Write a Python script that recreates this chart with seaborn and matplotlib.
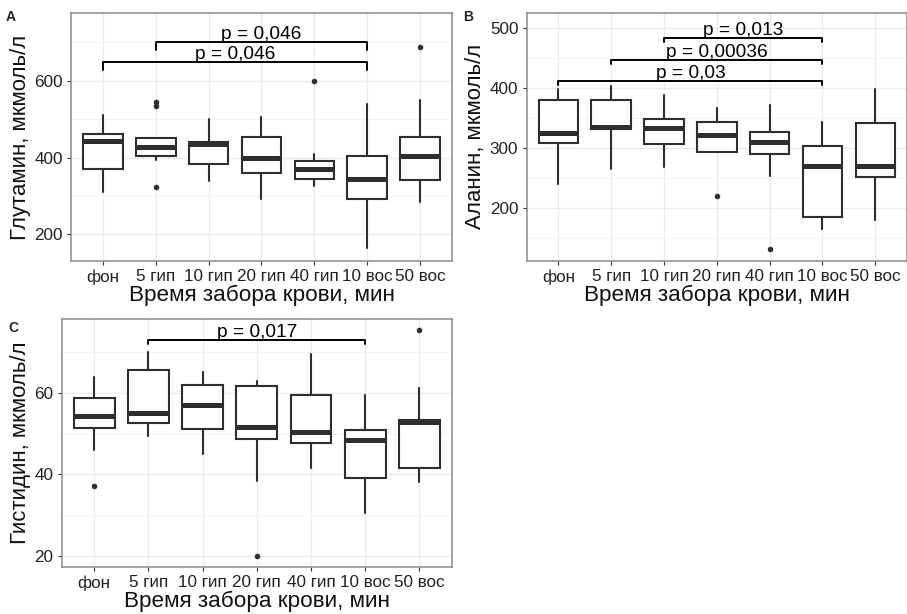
import matplotlib
matplotlib.use("Agg")
import matplotlib.pyplot as plt
import seaborn as sns

groups = ["фон", "5 гип", "10 гип", "20 гип", "40 гип", "10 вос", "50 вос"]

# A - glutamine
glu_whislo = [310, 394, 338, 293, 327, 164, 285]
glu_q1 = [370, 405, 384, 360, 345, 291, 341]
glu_med = [442, 428, 436, 399, 370, 344, 403]
glu_q3 = [462, 451, 441, 454, 391, 405, 454]
glu_whishi = [511, 451, 500, 506, 409, 540, 551]
glu_fliers = [[], [545, 533, 324], [], [], [598], [], [688]]
glu_pairs = [(0, 5), (1, 5)]
glu_bracket_y = [648, 701]
glu_p = ["p = 0,046", "p = 0,046"]

# B - alanine
ala_whislo = [240, 265, 269, 294, 253, 166, 181]
ala_q1 = [308, 332, 307, 294, 290, 186, 252]
ala_med = [326, 335, 333, 322, 310, 271, 271]
ala_q3 = [381, 381, 348, 343, 327, 303, 342]
ala_whishi = [398, 404, 389, 367, 372, 344, 399]
ala_fliers = [[], [], [], [220], [132], [], []]
ala_pairs = [(0, 5), (1, 5), (2, 5)]
ala_bracket_y = [412, 447, 483]
ala_p = ["p = 0,03", "p = 0,00036", "p = 0,013"]

# C - histidine
his_whislo = [46.1, 49.5, 44.9, 38.4, 41.5, 30.5, 38.1]
his_q1 = [51.5, 52.6, 51.1, 48.7, 47.6, 39.0, 41.5]
his_med = [54.3, 55.2, 57.0, 51.7, 50.3, 48.4, 52.9]
his_q3 = [58.7, 65.6, 62.0, 61.6, 59.4, 50.8, 53.3]
his_whishi = [63.9, 70.2, 65.1, 63.0, 69.5, 59.6, 61.2]
his_fliers = [[37.2], [], [], [19.8], [], [], [75.5]]
his_pairs = [(1, 5)]
his_bracket_y = [73]
his_p = ["p = 0,017"]

sns.set_theme(style="whitegrid")
plt.rcParams['font.family'] = ['Liberation Sans', 'DejaVu Sans']

DARK = '#2E2E2E'


def draw_panel(ax, whislo, q1, med, q3, whishi, fliers, pairs, br_y, p_txt,
               ylim, yticks, yminor, tip, ylabel):
    stats = []
    for i in range(len(groups)):
        stats.append(dict(whislo=whislo[i], q1=q1[i], med=med[i], q3=q3[i],
                          whishi=whishi[i], fliers=fliers[i]))
    ax.bxp(stats, positions=range(len(groups)), widths=0.75, showcaps=False,
           patch_artist=True,
           boxprops=dict(facecolor='white', edgecolor=DARK, linewidth=1.5),
           medianprops=dict(color=DARK, linewidth=3.6, solid_capstyle='butt'),
           whiskerprops=dict(color=DARK, linewidth=1.5),
           flierprops=dict(marker='o', markersize=4, markerfacecolor=DARK,
                           markeredgecolor='none'))
    # significance brackets
    for (a, b), y, txt in zip(pairs, br_y, p_txt):
        ax.plot([a, a, b, b], [y - tip, y, y, y - tip], color='black', lw=1.4)
        ax.annotate(txt, ((a + b) / 2, y), xytext=(0, -0.5), textcoords='offset points',
                    ha='center', va='bottom', fontsize=13.8, color='black')
    ax.set_xlim(-0.6, len(groups) - 0.4)
    ax.set_ylim(*ylim)
    ax.set_xticks(range(len(groups)))
    ax.set_xticklabels(groups)
    ax.set_yticks(yticks)
    ax.set_yticks(yminor, minor=True)
    ax.set_facecolor('white')
    ax.grid(True, which='major', color='#EBEBEB', lw=1.0)
    ax.grid(True, which='minor', axis='y', color='#F4F4F4', lw=0.7)
    ax.set_axisbelow(True)
    for s in ax.spines.values():
        s.set_color('#8A8A8A')
        s.set_linewidth(1.1)
    ax.tick_params(axis='both', which='major', length=3, width=0.8, color=DARK,
                   labelsize=12.3, labelcolor='#222222', pad=3, bottom=True, left=True)
    ax.tick_params(axis='y', which='minor', length=0, left=False)
    ax.set_xlabel('Время забора крови, мин', fontsize=16.2, labelpad=0, color='#111111')
    ax.set_ylabel(ylabel, fontsize=16, labelpad=2.5, color='#111111')
    return ax


fig = plt.figure(figsize=(9.07, 6.14), dpi=100)
fig.patch.set_facecolor('white')

axA = fig.add_axes([0.0783, 0.5749, 0.42, 0.4039])
axB = fig.add_axes([0.5807, 0.5749, 0.4193, 0.4044])
axC = fig.add_axes([0.068, 0.0765, 0.4303, 0.404])

draw_panel(axA, glu_whislo, glu_q1, glu_med, glu_q3, glu_whishi, glu_fliers,
           glu_pairs, glu_bracket_y, glu_p, (131, 776), [200, 400, 600],
           [300, 500, 700], 20, 'Глутамин, мкмоль/л')
draw_panel(axB, ala_whislo, ala_q1, ala_med, ala_q3, ala_whishi, ala_fliers,
           ala_pairs, ala_bracket_y, ala_p, (112, 526), [200, 300, 400, 500],
           [150, 250, 350, 450], 6, 'Аланин, мкмоль/л')
draw_panel(axC, his_whislo, his_q1, his_med, his_q3, his_whishi, his_fliers,
           his_pairs, his_bracket_y, his_p, (17.2, 78.2), [20, 40, 60],
           [30, 50, 70], 1.0, 'Гистидин, мкмоль/л')

fig.text(0.006, 0.966, 'A', fontsize=10, fontweight='bold')
fig.text(0.511, 0.966, 'B', fontsize=10, fontweight='bold')
fig.text(0.009, 0.460, 'C', fontsize=10, fontweight='bold')

fig.savefig('out.png', dpi=100)
